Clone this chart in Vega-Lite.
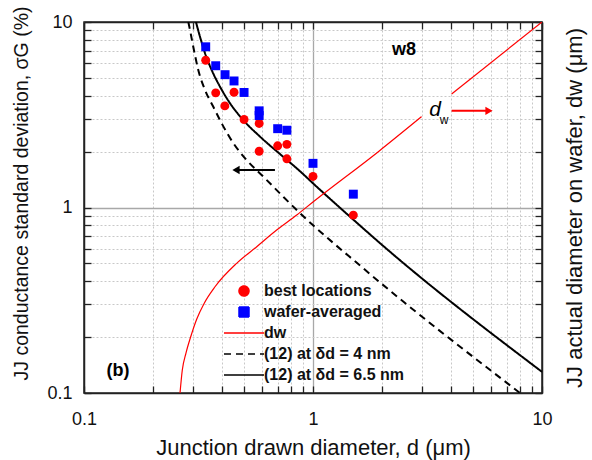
{
  "$schema": "https://vega.github.io/schema/vega-lite/v6.json",
  "width": 458,
  "height": 371,
  "autosize": {"type": "none"},
  "padding": {"left": 84, "top": 22, "right": 50, "bottom": 67},
  "datasets": {
    "curves": [
      {"d": 0.3083, "s": 10.0, "series": "(12) at δd = 6.5 nm"},
      {"d": 0.321, "s": 8.33, "series": "(12) at δd = 6.5 nm"},
      {"d": 0.3377, "s": 6.78, "series": "(12) at δd = 6.5 nm"},
      {"d": 0.361, "s": 5.51, "series": "(12) at δd = 6.5 nm"},
      {"d": 0.3925, "s": 4.48, "series": "(12) at δd = 6.5 nm"},
      {"d": 0.434, "s": 3.65, "series": "(12) at δd = 6.5 nm"},
      {"d": 0.496, "s": 2.96, "series": "(12) at δd = 6.5 nm"},
      {"d": 0.587, "s": 2.41, "series": "(12) at δd = 6.5 nm"},
      {"d": 0.718, "s": 1.94, "series": "(12) at δd = 6.5 nm"},
      {"d": 0.877, "s": 1.57, "series": "(12) at δd = 6.5 nm"},
      {"d": 1.0, "s": 1.35, "series": "(12) at δd = 6.5 nm"},
      {"d": 1.5, "s": 0.86, "series": "(12) at δd = 6.5 nm"},
      {"d": 1.929, "s": 0.654, "series": "(12) at δd = 6.5 nm"},
      {"d": 10, "s": 0.13, "series": "(12) at δd = 6.5 nm"},
      {"d": 0.2855, "s": 10.0, "series": "(12) at δd = 4 nm"},
      {"d": 0.2884, "s": 9.43, "series": "(12) at δd = 4 nm"},
      {"d": 0.3, "s": 7.36, "series": "(12) at δd = 4 nm"},
      {"d": 0.3155, "s": 5.51, "series": "(12) at δd = 4 nm"},
      {"d": 0.3377, "s": 4.3, "series": "(12) at δd = 4 nm"},
      {"d": 0.367, "s": 3.49, "series": "(12) at δd = 4 nm"},
      {"d": 0.3994, "s": 2.84, "series": "(12) at δd = 4 nm"},
      {"d": 0.449, "s": 2.22, "series": "(12) at δd = 4 nm"},
      {"d": 0.5135, "s": 1.8, "series": "(12) at δd = 4 nm"},
      {"d": 0.607, "s": 1.466, "series": "(12) at δd = 4 nm"},
      {"d": 0.718, "s": 1.19, "series": "(12) at δd = 4 nm"},
      {"d": 0.849, "s": 0.969, "series": "(12) at δd = 4 nm"},
      {"d": 1.658, "s": 0.47, "series": "(12) at δd = 4 nm"},
      {"d": 8.02, "s": 0.1, "series": "(12) at δd = 4 nm"}
    ],
    "points": [
      {"d": 0.34, "s": 6.22, "series": "best locations"},
      {"d": 0.376, "s": 4.15, "series": "best locations"},
      {"d": 0.452, "s": 4.18, "series": "best locations"},
      {"d": 0.412, "s": 3.53, "series": "best locations"},
      {"d": 0.5, "s": 2.98, "series": "best locations"},
      {"d": 0.582, "s": 2.84, "series": "best locations"},
      {"d": 0.582, "s": 2.01, "series": "best locations"},
      {"d": 0.701, "s": 2.15, "series": "best locations"},
      {"d": 0.769, "s": 2.19, "series": "best locations"},
      {"d": 0.769, "s": 1.83, "series": "best locations"},
      {"d": 1.0, "s": 1.47, "series": "best locations"},
      {"d": 1.5, "s": 0.91, "series": "best locations"},
      {"d": 0.34, "s": 7.35, "series": "wafer-averaged"},
      {"d": 0.376, "s": 5.81, "series": "wafer-averaged"},
      {"d": 0.413, "s": 5.2, "series": "wafer-averaged"},
      {"d": 0.452, "s": 4.81, "series": "wafer-averaged"},
      {"d": 0.5, "s": 4.17, "series": "wafer-averaged"},
      {"d": 0.582, "s": 3.32, "series": "wafer-averaged"},
      {"d": 0.582, "s": 3.13, "series": "wafer-averaged"},
      {"d": 0.701, "s": 2.66, "series": "wafer-averaged"},
      {"d": 0.769, "s": 2.61, "series": "wafer-averaged"},
      {"d": 1.0, "s": 1.73, "series": "wafer-averaged"},
      {"d": 1.5, "s": 1.18, "series": "wafer-averaged"}
    ],
    "dw": [
      {"d": 0.2626, "w": 0.1, "seg": "a", "series": "dw"},
      {"d": 0.2687, "w": 0.133, "seg": "a", "series": "dw"},
      {"d": 0.2788, "w": 0.164, "seg": "a", "series": "dw"},
      {"d": 0.2924, "w": 0.201, "seg": "a", "series": "dw"},
      {"d": 0.3105, "w": 0.25, "seg": "a", "series": "dw"},
      {"d": 0.335, "w": 0.305, "seg": "a", "series": "dw"},
      {"d": 0.3733, "w": 0.374, "seg": "a", "series": "dw"},
      {"d": 0.464, "w": 0.5, "seg": "a", "series": "dw"},
      {"d": 0.568, "w": 0.615, "seg": "a", "series": "dw"},
      {"d": 0.694, "w": 0.756, "seg": "a", "series": "dw"},
      {"d": 0.849, "w": 0.911, "seg": "a", "series": "dw"},
      {"d": 1.003, "w": 1.074, "seg": "a", "series": "dw"},
      {"d": 1.929, "w": 2.0, "seg": "a", "series": "dw"},
      {"d": 2.98, "w": 3.09, "seg": "a", "series": "dw"},
      {"d": 4.03, "w": 4.09, "seg": "b", "series": "dw"},
      {"d": 10, "w": 10, "seg": "b", "series": "dw"}
    ]
  },
  "layer": [
    {
      "data": {"name": "curves"},
      "mark": {"type": "line", "strokeWidth": 2, "clip": true, "interpolate": "monotone"},
      "encoding": {
        "x": {
          "field": "d", "type": "quantitative",
          "scale": {"type": "log", "domain": [0.1, 10], "nice": false},
          "axis": {
            "orient": "bottom",
            "values": [0.1, 0.2, 0.3, 0.4, 0.5, 0.6, 0.7, 0.8, 0.9, 1, 2, 3, 4, 5, 6, 7, 8, 9, 10],
            "labelExpr": "indexof([0.1, 1, 10], datum.value) >= 0 ? datum.label : ''",
            "tickSize": -7,
            "labelPadding": 24,
            "title": "Junction drawn diameter, d (μm)",
            "titlePadding": 9,
            "grid": true,
            "gridColor": {"condition": {"test": "datum.value == 1", "value": "#a8a8a8"}, "value": "#c8c8c8"},
            "gridDash": {"condition": {"test": "datum.value == 1", "value": []}, "value": [2, 2]},
            "gridWidth": {"condition": {"test": "datum.value == 1", "value": 1.3}, "value": 1},
            "encode": {"ticks": {"y2": {"condition": {"test": "indexof([0.1, 1, 10], datum.value) >= 0", "value": -8}, "value": -4}}}
          }
        },
        "y": {
          "field": "s", "type": "quantitative",
          "scale": {"type": "log", "domain": [0.1, 10], "nice": false},
          "axis": {
            "orient": "left",
            "values": [0.1, 0.2, 0.3, 0.4, 0.5, 0.6, 0.7, 0.8, 0.9, 1, 2, 3, 4, 5, 6, 7, 8, 9, 10],
            "labelExpr": "indexof([0.1, 1, 10], datum.value) >= 0 ? datum.label : ''",
            "tickSize": -7,
            "labelPadding": 19,
            "title": "JJ conductance standard deviation, σG (%)",
            "titleFontSize": 19.5,
            "titlePadding": 15,
            "titleY": 171,
            "grid": true,
            "gridColor": {"condition": {"test": "datum.value == 1", "value": "#a8a8a8"}, "value": "#c8c8c8"},
            "gridDash": {"condition": {"test": "datum.value == 1", "value": []}, "value": [2, 2]},
            "gridWidth": {"condition": {"test": "datum.value == 1", "value": 1.3}, "value": 1},
            "encode": {"ticks": {"x2": {"condition": {"test": "indexof([0.1, 1, 10], datum.value) >= 0", "value": 8}, "value": 4}}}
          }
        },
        "color": {
          "field": "series", "type": "nominal",
          "scale": {
            "domain": ["best locations", "wafer-averaged", "dw", "(12) at δd = 4 nm", "(12) at δd = 6.5 nm"],
            "range": ["#ff0000", "#0000ff", "#ff0000", "#000000", "#000000"]
          }
        },
        "strokeDash": {
          "field": "series", "type": "nominal",
          "scale": {
            "domain": ["best locations", "wafer-averaged", "dw", "(12) at δd = 4 nm", "(12) at δd = 6.5 nm"],
            "range": [[1, 0], [1, 0], [1, 0], [7, 5], [1, 0]]
          },
          "legend": null
        }
      }
    },
    {
      "data": {"name": "dw"},
      "mark": {"type": "line", "strokeWidth": 1.2, "clip": true, "interpolate": "monotone"},
      "encoding": {
        "x": {
          "field": "d", "type": "quantitative",
          "scale": {"type": "log", "domain": [0.1, 10], "nice": false},
          "axis": {
            "orient": "top",
            "values": [0.1, 0.2, 0.3, 0.4, 0.5, 0.6, 0.7, 0.8, 0.9, 1, 2, 3, 4, 5, 6, 7, 8, 9, 10],
            "labels": false,
            "title": null,
            "grid": false,
            "tickSize": -7,
            "encode": {"ticks": {"y2": {"condition": {"test": "indexof([0.1, 1, 10], datum.value) >= 0", "value": 8}, "value": 4}}}
          }
        },
        "y": {
          "field": "w", "type": "quantitative",
          "scale": {"type": "log", "domain": [0.1, 10], "nice": false},
          "axis": {
            "orient": "right",
            "values": [0.1, 0.2, 0.3, 0.4, 0.5, 0.6, 0.7, 0.8, 0.9, 1, 2, 3, 4, 5, 6, 7, 8, 9, 10],
            "labels": false,
            "grid": false,
            "tickSize": -7,
            "title": "JJ actual diameter on wafer, dw (μm)",
            "titleAngle": 270,
            "titleBaseline": "top",
            "titlePadding": 22,
            "encode": {"ticks": {"x2": {"condition": {"test": "indexof([0.1, 1, 10], datum.value) >= 0", "value": -8}, "value": -4}}}
          }
        },
        "detail": {"field": "seg", "type": "nominal"},
        "color": {
          "field": "series", "type": "nominal",
          "scale": {
            "domain": ["best locations", "wafer-averaged", "dw", "(12) at δd = 4 nm", "(12) at δd = 6.5 nm"],
            "range": ["#ff0000", "#0000ff", "#ff0000", "#000000", "#000000"]
          }
        }
      }
    },
    {
      "data": {"name": "points"},
      "mark": {"type": "point", "filled": true, "opacity": 1, "size": 80},
      "encoding": {
        "x": {"field": "d", "type": "quantitative", "scale": {"type": "log", "domain": [0.1, 10], "nice": false}, "axis": null},
        "y": {"field": "s", "type": "quantitative", "scale": {"type": "log", "domain": [0.1, 10], "nice": false}, "axis": null},
        "shape": {
          "field": "series", "type": "nominal",
          "scale": {
            "domain": ["best locations", "wafer-averaged", "dw", "(12) at δd = 4 nm", "(12) at δd = 6.5 nm"],
            "range": ["circle", "square", "M-4,0L4,0", "M-4,0L4,0", "M-4,0L4,0"]
          },
          "legend": null
        },
        "color": {
          "field": "series", "type": "nominal",
          "scale": {
            "domain": ["best locations", "wafer-averaged", "dw", "(12) at δd = 4 nm", "(12) at δd = 6.5 nm"],
            "range": ["#ff0000", "#0000ff", "#ff0000", "#000000", "#000000"]
          },
          "legend": {
            "orient": "none",
            "legendX": 152,
            "legendY": 261,
            "title": null,
            "padding": 0,
            "rowPadding": 5,
            "labelOffset": 12,
            "labelFont": "Liberation Sans",
            "labelFontSize": 16,
            "labelFontWeight": "bold",
            "labelColor": "#111",
            "labelLimit": 0,
            "symbolSize": 100,
            "encode": {
              "symbols": {
                "fill": {"value": {"expr": "indexof(['best locations', 'wafer-averaged'], datum.value) >= 0 ? scale('color', datum.value) : 'transparent'"}},
                "stroke": {"value": {"expr": "indexof(['best locations', 'wafer-averaged'], datum.value) >= 0 ? 'transparent' : scale('color', datum.value)"}},
                "shape": {"value": {"expr": "scale('shape', datum.value)"}},
                "strokeDash": {"value": {"expr": "scale('strokeDash', datum.value)"}},
                "strokeWidth": {"value": {"expr": "datum.value == 'dw' ? 1 : 2"}},
                "size": {"value": {"expr": "datum.value == 'wafer-averaged' ? 64 : 100"}},
                "opacity": {"value": 1}
              },
              "labels": {
                "fontStyle": {"value": {"expr": "datum.value == 'dw' ? 'italic' : 'normal'"}}
              }
            }
          }
        }
      }
    },
    {
      "data": {"values": [{"x": 2.497, "y": 7.06, "t": "w8"}, {"x": 0.1408, "y": 0.1322, "t": "(b)"}]},
      "mark": {"type": "text", "fontWeight": "bold", "fontSize": 18, "color": "#000", "font": "Liberation Sans", "align": "center", "baseline": "middle"},
      "encoding": {
        "x": {"field": "x", "type": "quantitative", "scale": {"type": "log", "domain": [0.1, 10], "nice": false}, "axis": null},
        "y": {"field": "y", "type": "quantitative", "scale": {"type": "log", "domain": [0.1, 10], "nice": false}, "axis": null},
        "text": {"field": "t"}
      }
    },
    {
      "data": {"values": [{"x": 3.41, "y": 3.355, "t": "d"}]},
      "mark": {"type": "text", "fontStyle": "italic", "fontSize": 21, "color": "#000", "font": "Liberation Sans", "align": "center", "baseline": "middle"},
      "encoding": {
        "x": {"field": "x", "type": "quantitative", "scale": {"type": "log", "domain": [0.1, 10], "nice": false}, "axis": null},
        "y": {"field": "y", "type": "quantitative", "scale": {"type": "log", "domain": [0.1, 10], "nice": false}, "axis": null},
        "text": {"field": "t"}
      }
    },
    {
      "data": {"values": [{"x": 3.733, "y": 2.963, "t": "w"}]},
      "mark": {"type": "text", "fontSize": 12, "color": "#000", "font": "Liberation Sans", "align": "center", "baseline": "middle"},
      "encoding": {
        "x": {"field": "x", "type": "quantitative", "scale": {"type": "log", "domain": [0.1, 10], "nice": false}, "axis": null},
        "y": {"field": "y", "type": "quantitative", "scale": {"type": "log", "domain": [0.1, 10], "nice": false}, "axis": null},
        "text": {"field": "t"}
      }
    },
    {
      "data": {"values": [{"x1": 0.461, "x2": 0.682, "y": 1.593}]},
      "mark": {"type": "rule", "color": "#000", "strokeWidth": 2},
      "encoding": {
        "x": {"field": "x1", "type": "quantitative", "scale": {"type": "log", "domain": [0.1, 10], "nice": false}, "axis": null},
        "x2": {"field": "x2"},
        "y": {"field": "y", "type": "quantitative", "scale": {"type": "log", "domain": [0.1, 10], "nice": false}, "axis": null}
      }
    },
    {
      "data": {"values": [{"x": 0.461, "y": 1.593}]},
      "mark": {"type": "point", "shape": "triangle-left", "filled": true, "opacity": 1, "color": "#000", "size": 70},
      "encoding": {
        "x": {"field": "x", "type": "quantitative", "scale": {"type": "log", "domain": [0.1, 10], "nice": false}, "axis": null},
        "y": {"field": "y", "type": "quantitative", "scale": {"type": "log", "domain": [0.1, 10], "nice": false}, "axis": null}
      }
    },
    {
      "data": {"values": [{"x1": 4.03, "x2": 5.87, "y": 3.32}]},
      "mark": {"type": "rule", "color": "#ff0000", "strokeWidth": 2},
      "encoding": {
        "x": {"field": "x1", "type": "quantitative", "scale": {"type": "log", "domain": [0.1, 10], "nice": false}, "axis": null},
        "x2": {"field": "x2"},
        "y": {"field": "y", "type": "quantitative", "scale": {"type": "log", "domain": [0.1, 10], "nice": false}, "axis": null}
      }
    },
    {
      "data": {"values": [{"x": 5.87, "y": 3.32}]},
      "mark": {"type": "point", "shape": "triangle-right", "filled": true, "opacity": 1, "color": "#ff0000", "size": 70},
      "encoding": {
        "x": {"field": "x", "type": "quantitative", "scale": {"type": "log", "domain": [0.1, 10], "nice": false}, "axis": null},
        "y": {"field": "y", "type": "quantitative", "scale": {"type": "log", "domain": [0.1, 10], "nice": false}, "axis": null}
      }
    }
  ],
  "resolve": {"axis": {"x": "independent", "y": "independent"}},
  "config": {
    "font": "Liberation Sans",
    "view": {"stroke": "#222", "strokeWidth": 1.5},
    "axis": {
      "labelFont": "Liberation Sans",
      "titleFont": "Liberation Sans",
      "labelColor": "#111",
      "titleColor": "#111",
      "titleFontWeight": "normal",
      "labelFontSize": 18,
      "titleFontSize": 22,
      "domainColor": "#222",
      "domainWidth": 1.5,
      "tickColor": "#222",
      "tickWidth": 1.3,
      "labelFlush": false,
      "labelOverlap": false
    }
  }
}
